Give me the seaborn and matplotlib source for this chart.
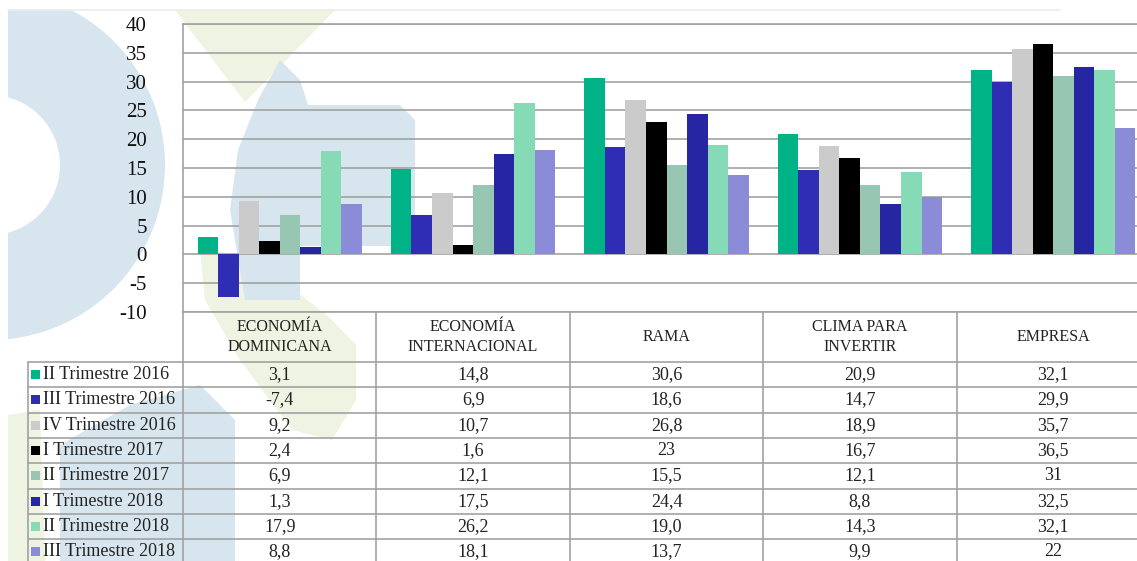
import matplotlib
matplotlib.use("Agg")
import matplotlib.pyplot as plt
import matplotlib.transforms as mtransforms
from matplotlib.patches import Wedge, Polygon, Rectangle
import pandas as pd
import seaborn as sns

# --- datos ---
categorias = ["ECONOMÍA\nDOMINICANA", "ECONOMÍA\nINTERNACIONAL", "RAMA",
              "CLIMA PARA\nINVERTIR", "EMPRESA"]
trimestres = ["II Trimestre 2016", "III Trimestre 2016", "IV Trimestre 2016",
              "I Trimestre 2017", "II Trimestre 2017", "I Trimestre 2018",
              "II Trimestre 2018", "III Trimestre 2018"]

ii_2016 = [3.1, 14.8, 30.6, 20.9, 32.1]
iii_2016 = [-7.4, 6.9, 18.6, 14.7, 29.9]
iv_2016 = [9.2, 10.7, 26.8, 18.9, 35.7]
i_2017 = [2.4, 1.6, 23, 16.7, 36.5]
ii_2017 = [6.9, 12.1, 15.5, 12.1, 31]
i_2018 = [1.3, 17.5, 24.4, 8.8, 32.5]
ii_2018 = [17.9, 26.2, 19.0, 14.3, 32.1]
iii_2018 = [8.8, 18.1, 13.7, 9.9, 22]

# texto tal como aparece en la tabla
etiquetas_tabla = [
    ["3,1", "14,8", "30,6", "20,9", "32,1"],
    ["-7,4", "6,9", "18,6", "14,7", "29,9"],
    ["9,2", "10,7", "26,8", "18,9", "35,7"],
    ["2,4", "1,6", "23", "16,7", "36,5"],
    ["6,9", "12,1", "15,5", "12,1", "31"],
    ["1,3", "17,5", "24,4", "8,8", "32,5"],
    ["17,9", "26,2", "19,0", "14,3", "32,1"],
    ["8,8", "18,1", "13,7", "9,9", "22"],
]

colores = ["#00b386", "#2e2db3", "#cbcbcb", "#000000",
           "#97c7b2", "#2626a2", "#86dab6", "#8b8bd8"]

series = [ii_2016, iii_2016, iv_2016, i_2017, ii_2017, i_2018, ii_2018, iii_2018]
filas = []
for t, vals in zip(trimestres, series):
    for c, v in zip(categorias, vals):
        filas.append({"categoria": c, "trimestre": t, "valor": v})
df = pd.DataFrame(filas)

sns.set_theme(style="white")
plt.rcParams["font.family"] = ["Liberation Serif", "DejaVu Serif"]
plt.rcParams["axes.unicode_minus"] = False

W, H = 1137, 561
fig = plt.figure(figsize=(W / 100, H / 100), dpi=100)

# --- marca de agua de fondo (coordenadas en pixeles) ---
bax = fig.add_axes([0, 0, 1, 1], zorder=0)
bax.set_xlim(0, W)
bax.set_ylim(H, 0)
bax.axis("off")
azul = "#d7e5ee"
verde = "#eef4e1"
bax.add_patch(Polygon([(175, 10), (335, 10), (245, 102)], color=verde, lw=0))
bax.add_patch(Polygon([(200, 250), (250, 255), (330, 318), (356, 345), (356, 400),
                       (332, 440), (292, 430), (240, 360), (205, 300)], color=verde, lw=0))
bax.add_patch(Polygon([(8, 415), (40, 410), (45, 561), (8, 561)], color=verde, lw=0))
bax.add_patch(Wedge((-10, 165), 175, 0, 360, width=105, color=azul, lw=0))
bax.add_patch(Polygon([(280, 60), (300, 80), (308, 105), (400, 105), (415, 120),
                       (415, 232), (402, 246), (300, 246), (300, 300), (245, 300),
                       (230, 210), (238, 150), (258, 100)], color=azul, lw=0))
bax.add_patch(Polygon([(60, 445), (130, 405), (200, 385), (235, 420), (235, 561),
                       (60, 561)], color=azul, lw=0))
bax.add_patch(Rectangle((0, 0), W, 10, color="white", lw=0))
bax.add_patch(Rectangle((0, 0), 8, H, color="white", lw=0))
bax.plot([8, 1060], [10, 10], color="#ececec", lw=1.2)

# --- grafico de barras ---
ax = fig.add_axes([183 / W, (H - 312) / H, 967 / W, 288 / H], zorder=1)
ax.set_facecolor("none")
sns.barplot(data=df, x="categoria", y="valor", hue="trimestre",
            hue_order=trimestres, order=categorias, palette=colores,
            saturation=1, width=0.85, gap=0, linewidth=0, legend=False,
            ax=ax, zorder=3)
ax.set_xlim(-0.5, 4.5)
ax.set_ylim(-10, 40)
ax.set_yticks(range(-10, 41, 5))
ax.set_xticks([])
ax.set_xlabel("")
ax.set_ylabel("")
ax.yaxis.grid(True, color="#a2a2a2", lw=1.2, zorder=1)
ax.set_axisbelow(True)
ax.tick_params(axis="y", length=0, pad=26, labelsize=15, labelcolor="#111111")
for s in ax.spines.values():
    s.set_color("#a2a2a2")
    s.set_linewidth(1.2)

# --- tabla de datos ---
tax = fig.add_axes([0, 0, 1, 1], zorder=2)
tax.set_xlim(0, W)
tax.set_ylim(H, 0)
tax.axis("off")
trans = mtransforms.blended_transform_factory(ax.transData, tax.transData)
lc = "#a2a2a2"
x_label_izq = (28 - 183) / 193.4 - 0.5
y_cab = 312
y_fila0 = 362
alto = 25.3

for b in [-0.5, 0.5, 1.5, 2.5, 3.5]:
    tax.plot([b, b], [y_cab, H + 5], color=lc, lw=1.2, transform=trans, clip_on=False)
tax.plot([x_label_izq, x_label_izq], [y_fila0, H + 5], color=lc, lw=1.2,
         transform=trans, clip_on=False)
for k in range(len(trimestres) + 1):
    y = y_fila0 + k * alto
    tax.plot([x_label_izq, 4.6], [y, y], color=lc, lw=1.2, transform=trans, clip_on=False)

for i, c in enumerate(categorias):
    tax.text(i, (y_cab + y_fila0) / 2, c, transform=trans, ha="center", va="center",
             fontsize=11.5, linespacing=1.3, color="#222222")

for k, (t, col) in enumerate(zip(trimestres, colores)):
    yc = y_fila0 + (k + 0.5) * alto
    tax.add_patch(Rectangle((31, yc - 4.5), 9, 9, color=col, lw=0))
    tax.text(43, yc, t, ha="left", va="center", fontsize=13, color="#222222")
    for i in range(len(categorias)):
        tax.text(i, yc, etiquetas_tabla[k][i], transform=trans, ha="center",
                 va="center", fontsize=13, color="#222222")

fig.savefig("out.png", dpi=100)
